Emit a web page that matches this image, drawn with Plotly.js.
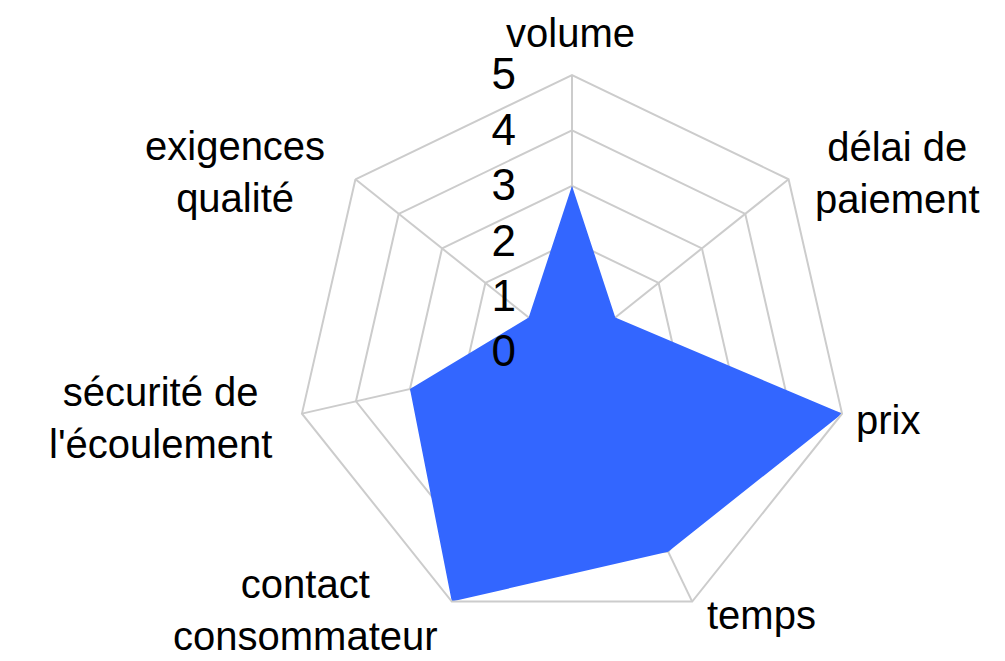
<!DOCTYPE html>
<html>
<head>
<meta charset="utf-8">
<script src="https://cdn.plot.ly/plotly-3.0.1.min.js"></script>
<style>
  html, body { margin: 0; padding: 0; background: #fff; }
  #chart { width: 1005px; height: 661px; }
</style>
</head>
<body>
<div id="chart"></div>
<script>
// ===== Données =====
const criteres = [
  "volume",
  "délai de paiement",
  "prix",
  "temps",
  "contact consommateur",
  "sécurité de l'écoulement",
  "exigences qualité",
];
const etiquettes = [
  "volume",
  "délai de<br>paiement",
  "prix",
  "temps",
  "contact<br>consommateur",
  "sécurité de<br>l'écoulement",
  "exigences<br>qualité",
];
const notes = [3, 1, 5, 4, 5, 3, 1];
const graduations = [0, 1, 2, 3, 4, 5];

// position des libellés autour du radar (px, repère de la page)
const posLibelles = [
  [570, 33], [897, 173], [888, 420], [761, 615],
  [305, 610], [160, 418], [235, 172],
];

const W = 1005, H = 661;

// fermer le polygone
const theta = criteres.concat([criteres[0]]);
const r = notes.concat([notes[0]]);

const data = [{
  type: "scatterpolar",
  r: r,
  theta: theta,
  mode: "lines",
  fill: "toself",
  fillcolor: "#3366ff",
  line: { color: "#3366ff", width: 0 },
  hoverinfo: "skip",
}];

const annotations = etiquettes.map((t, i) => ({
  text: t,
  xref: "paper", yref: "paper",
  x: posLibelles[i][0] / W,
  y: 1 - posLibelles[i][1] / H,
  xanchor: "center", yanchor: "middle",
  showarrow: false,
  align: "center",
  font: { size: 40, color: "#000" },
}));

const layout = {
  width: W,
  height: H,
  margin: { l: 0, r: 0, t: 0, b: 0 },
  paper_bgcolor: "#fff",
  showlegend: false,
  font: { family: "Liberation Sans, Arial, sans-serif", color: "#000" },
  annotations: annotations,
  polar: {
    domain: { x: [295 / W, 849 / W], y: [32 / H, 586 / H] },
    bgcolor: "#fff",
    gridshape: "linear",
    radialaxis: {
      range: [0, 5],
      tickvals: graduations,
      // espaces insécables pour écarter les chiffres de l'axe
      ticktext: graduations.map(v => v + "\u00a0\u00a0\u00a0\u00a0"),
      angle: 90,
      tickangle: 90,
      side: "counterclockwise",
      showline: false,
      ticks: "",
      gridcolor: "#cccccc",
      gridwidth: 2,
      tickfont: { size: 44, color: "#000" },
    },
    angularaxis: {
      direction: "clockwise",
      rotation: 90,
      ticks: "",
      showticklabels: false,
      showline: true,
      linecolor: "#cccccc",
      linewidth: 2,
      gridcolor: "#cccccc",
      gridwidth: 2,
    },
  },
};

Plotly.newPlot("chart", data, layout, { displayModeBar: false, staticPlot: true });
</script>
</body>
</html>
